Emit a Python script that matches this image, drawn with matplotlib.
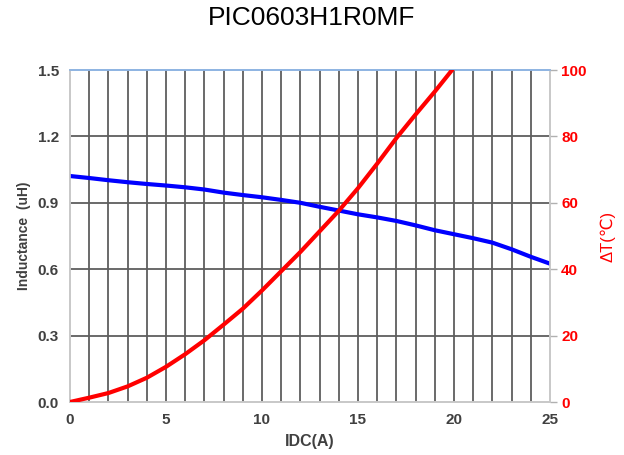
import matplotlib
matplotlib.use("Agg")
import matplotlib.pyplot as plt
import numpy as np

plt.rcParams['font.family'] = ['Liberation Sans', 'DejaVu Sans']

# Inductance curve (uH) vs IDC (A)
idc_L = [0, 1, 2, 3, 4, 5, 6, 7, 8, 9, 10, 11, 12, 13, 14, 15, 16, 17, 18, 19, 20, 21, 22, 23, 24, 25]
inductance = [1.021, 1.012, 1.002, 0.993, 0.985, 0.978, 0.970, 0.960, 0.946, 0.935, 0.925, 0.913, 0.900,
              0.882, 0.865, 0.848, 0.834, 0.818, 0.798, 0.776, 0.758, 0.740, 0.720, 0.690, 0.656, 0.625]

# Temperature rise curve (deg C) vs IDC (A)
idc_T = [0, 1, 2, 3, 4, 5, 6, 7, 8, 9, 10, 11, 12, 13, 14, 15, 16, 17, 18, 19, 19.9]
delta_T = [0, 1.3, 2.7, 4.7, 7.3, 10.6, 14.4, 18.6, 23.3, 28.1, 33.6, 39.4, 45.2,
           51.4, 57.6, 64.4, 71.8, 79.5, 86.6, 93.5, 100]

x_ticks = [0, 5, 10, 15, 20, 25]
y_ticks = [0.0, 0.3, 0.6, 0.9, 1.2, 1.5]
y2_ticks = [0, 20, 40, 60, 80, 100]

fig = plt.figure(figsize=(6.24, 4.55), dpi=100)
ax = fig.add_axes([70/624, 53/455, 480/624, 332/455])
ax2 = ax.twinx()

grid_c = '#5e5e5e'
for xv in range(1, 25):
    ax.axvline(xv, color=grid_c, lw=1.3, zorder=1)
for yv in y_ticks[1:-1]:
    ax.axhline(yv, color=grid_c, lw=1.3, zorder=1)

ax.plot(idc_L, inductance, color='#0000ff', lw=3.0, zorder=3, solid_joinstyle='round')
ax2.plot(idc_T, delta_T, color='#ff0000', lw=3.0, zorder=3, solid_joinstyle='round')

ax.set_xlim(0, 25)
ax.set_ylim(0, 1.5)
ax2.set_ylim(0, 100)

ax.set_xticks(x_ticks)
ax.set_yticks(y_ticks)
ax.set_yticklabels([f"{v:.1f}" for v in y_ticks])
ax2.set_yticks(y2_ticks)

lab_c = '#404040'
ax.tick_params(axis='both', length=0, pad=8, labelsize=11, labelcolor=lab_c)
ax.tick_params(axis='x', pad=8)
for t in ax.get_xticklabels() + ax.get_yticklabels():
    t.set_fontweight('bold')
ax2.tick_params(axis='y', length=5, width=1, color='#b0b0b0', pad=3, labelsize=11, labelcolor='#ff0000')
for t in ax2.get_yticklabels():
    t.set_fontweight('bold')

for a in (ax, ax2):
    a.spines['left'].set_color('#c8c8c8')
    a.spines['bottom'].set_color('#c8c8c8')
    a.spines['right'].set_color('#c8c8c8')
    a.spines['top'].set_color('#8db3e2')
    for s in a.spines.values():
        s.set_linewidth(1.2)

ax.set_xlabel('IDC(A)', fontsize=11.5, fontweight='bold', color=lab_c, labelpad=5)
ax.set_ylabel('Inductance  (uH)', fontsize=10, fontweight='bold', color=lab_c, labelpad=5)
ax2.set_ylabel('ΔT(℃)', fontsize=12, color='#ff0000', labelpad=10)

fig.text(0.5, 1 - 18/455, 'PIC0603H1R0MF', ha='center', va='center', fontsize=19, color='black')

fig.savefig('out.png', dpi=100)
